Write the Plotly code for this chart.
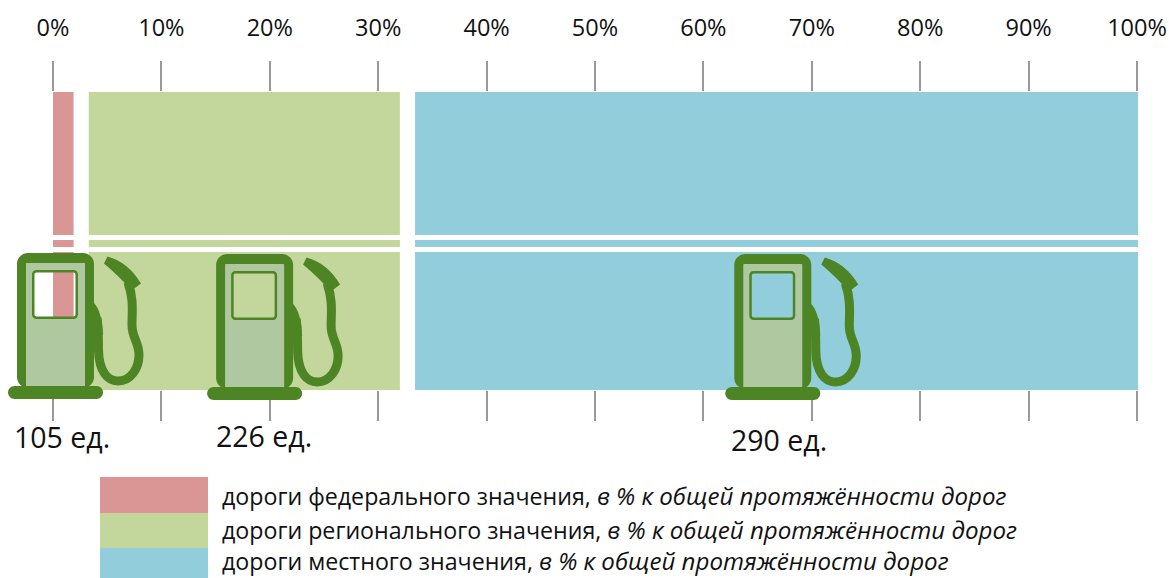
import plotly.graph_objects as go

# Data
segment_names = ["дороги федерального значения", "дороги регионального значения", "дороги местного значения"]
segment_start = [0.0, 3.3, 33.4]
segment_share = [1.9, 28.7, 66.7]
segment_colors = ["#D99694", "#C3D69B", "#92CDDC"]
tick_values = [0, 10, 20, 30, 40, 50, 60, 70, 80, 90, 100]
tick_labels = ["0%", "10%", "20%", "30%", "40%", "50%", "60%", "70%", "80%", "90%", "100%"]
station_counts = ["105 ед.", "226 ед.", "290 ед."]
station_label_x = [0.85, 19.5, 67.0]
station_label_y_px = [437, 436, 440]
pump_x = [0.23, 18.6, 66.4]
pump_shift_y = [0, -1, -1]
legend_suffix = "в % к общей протяжённости дорог"

W, H = 1169, 578
TOP, BOTTOM = 92, 390
X0, PXPER = 53.0, 10.84
DARK = "#4E8524"
LIGHT = "#B0C8A0"
FONT = "Open Sans"

def py(y):
    return (BOTTOM - y) / (BOTTOM - TOP)

fig = go.Figure()
for name, s, v, c in zip(segment_names, segment_start, segment_share, segment_colors):
    fig.add_trace(go.Bar(y=[0.5], x=[v], base=[s], width=[1], orientation="h", name=name,
                         marker=dict(color=c, line=dict(width=0)), showlegend=False, hoverinfo="name+x"))

shapes = []
for a, b in [(235, 240), (247, 252)]:
    shapes.append(dict(type="rect", xref="paper", yref="paper", x0=0, x1=1, y0=py(b), y1=py(a),
                       fillcolor="white", line=dict(width=0), layer="above"))

def q(x, y):
    # reference-style icon coordinates, relative to the pump anchor
    return f"{x - 55.5:.2f},{390 - y:.2f}"

def rrect(x0, y0, x1, y1, r):
    k = r * 0.45
    return (f"M{q(x0 + r, y0)} L{q(x1 - r, y0)} C{q(x1 - k, y0)} {q(x1, y0 + k)} {q(x1, y0 + r)} L{q(x1, y1 - r)} "
            f"C{q(x1, y1 - k)} {q(x1 - k, y1)} {q(x1 - r, y1)} L{q(x0 + r, y1)} C{q(x0 + k, y1)} {q(x0, y1 - k)} {q(x0, y1 - r)} "
            f"L{q(x0, y0 + r)} C{q(x0, y0 + k)} {q(x0 + k, y0)} {q(x0 + r, y0)} Z ")

win_out = rrect(32, 270, 78, 319, 4)
win_in = rrect(34.5, 272.5, 75.5, 316.5, 2)
body_in = rrect(26, 263, 85, 387, 1)
body_out = rrect(17, 253, 94, 388, 11)
base = rrect(8, 386, 103, 399, 6.5)
nozzle = (f"M{q(107.5, 256.5)} Q{q(128, 262)} {q(141, 283.5)} L{q(135, 288)} L{q(131, 290)} "
          f"Q{q(120, 277)} {q(104, 263.5)} Z")
hose = (f"M{q(97, 318)} C{q(98, 325)} {q(98.5, 335)} {q(98.5, 350)} "
        f"C{q(99, 372)} {q(108, 381)} {q(118, 381)} C{q(131, 381)} {q(139, 368)} {q(139, 355)} "
        f"C{q(139, 342)} {q(132, 338)} {q(132, 325)} C{q(132, 312)} {q(134, 300)} {q(128, 282)}")
hose_root = f"M{q(93, 302)} Q{q(102, 310)} {q(103, 335)} L{q(93, 335)} Z"

def icon(path, fill=None, line=None, lw=0, rule="evenodd", anchor_x=0, anchor_y=0):
    d = dict(type="path", xref="x", yref="paper", xsizemode="pixel", ysizemode="pixel",
             xanchor=anchor_x, yanchor=anchor_y, path=path, layer="above", fillrule=rule,
             line=dict(width=lw, color=line or "rgba(0,0,0,0)"))
    d["fillcolor"] = fill if fill else "rgba(0,0,0,0)"
    return d

for px_val, sh in zip(pump_x, pump_shift_y):
    ya = py(BOTTOM - sh)
    shapes.append(icon(body_in + win_out, fill=LIGHT, anchor_x=px_val, anchor_y=ya))
    shapes.append(icon(hose, line=DARK, lw=9, anchor_x=px_val, anchor_y=ya))
    shapes.append(icon(hose_root, fill=DARK, anchor_x=px_val, anchor_y=ya))
    shapes.append(icon(body_out + body_in, fill=DARK, anchor_x=px_val, anchor_y=ya))
    shapes.append(icon(win_out + win_in, fill=DARK, anchor_x=px_val, anchor_y=ya))
    shapes.append(icon(base, fill=DARK, anchor_x=px_val, anchor_y=ya))
    shapes.append(icon(nozzle, fill=DARK, anchor_x=px_val, anchor_y=ya))

# legend swatches
swatch_edges = [477, 513, 548, 578]
for i, c in enumerate(segment_colors):
    shapes.append(dict(type="rect", xref="paper", yref="paper", x0=100 / W, x1=208 / W,
                       y0=py(swatch_edges[i + 1]), y1=py(swatch_edges[i]),
                       fillcolor=c, line=dict(width=0), layer="above"))

annotations = []
for t, x, y in zip(station_counts, station_label_x, station_label_y_px):
    annotations.append(dict(text=t, x=x, y=py(y), xref="x", yref="paper", showarrow=False,
                            xanchor="center", yanchor="middle", font=dict(family=FONT, size=28.5, color="#111")))
for name, y in zip(segment_names, [495, 529, 560]):
    annotations.append(dict(text=f"{name}, <i><span style=\"font-size:24.1px\">{legend_suffix}</span></i>",
                            x=220 / W, y=py(y), xref="paper", yref="paper",
                            showarrow=False, xanchor="left", yanchor="middle",
                            font=dict(family=FONT, size=23.2, color="#111")))

fig.update_layout(
    width=W, height=H, margin=dict(l=0, r=0, t=TOP, b=H - BOTTOM, pad=0),
    paper_bgcolor="white", plot_bgcolor="white", showlegend=False, barmode="overlay",
    font=dict(family=FONT, size=23.5, color="#111"),
    shapes=shapes, annotations=annotations,
    xaxis=dict(range=[(0 - X0) / PXPER, (W - X0) / PXPER], side="top", tickmode="array",
               tickvals=tick_values, ticktext=tick_labels, ticks="outside", ticklen=30, tickwidth=2,
               tickcolor="#999999", mirror="ticks", showgrid=False, zeroline=False, showline=False,
               ticklabelstandoff=16, fixedrange=True),
    yaxis=dict(range=[0, 1], visible=False, fixedrange=True),
)
fig.write_html("out.html", post_script="document.body.style.margin='0';",
               config=dict(displayModeBar=False))
